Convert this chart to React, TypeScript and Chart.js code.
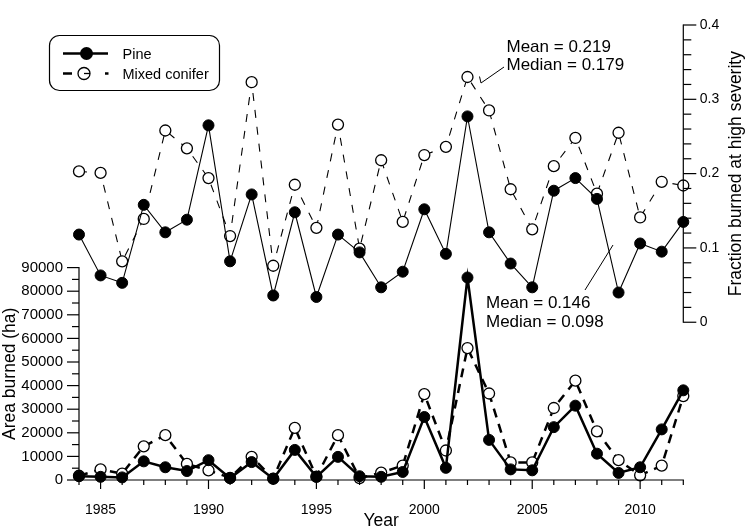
import React, { useEffect, useRef } from "react";
import { Chart, registerables } from "chart.js";

Chart.register(...registerables);

// ---------- data ----------
const years = [
  1984, 1985, 1986, 1987, 1988, 1989, 1990, 1991, 1992, 1993, 1994, 1995, 1996, 1997,
  1998, 1999, 2000, 2001, 2002, 2003, 2004, 2005, 2006, 2007, 2008, 2009, 2010, 2011, 2012,
];
const pineArea = [
  1600, 1350, 1100, 7900, 5400, 3800, 8400, 800, 7600, 550, 12750, 1350, 9800, 1600,
  1350, 3400, 26700, 5150, 85800, 17000, 4500, 4100, 22400, 31500, 11150, 3000, 5400, 21450, 38000,
];
const mixedArea = [
  1800, 4500, 2700, 14250, 19000, 6800, 4100, 900, 9800, 600, 22100, 1400, 19000, 800,
  3100, 6100, 36400, 12500, 55900, 36650, 7450, 7450, 30500, 42100, 20600, 8400, 2000, 6100, 35550,
];
const pineFrac = [
  0.118, 0.063, 0.053, 0.158, 0.121, 0.138, 0.265, 0.082, 0.172, 0.036, 0.148, 0.034, 0.118, 0.094,
  0.047, 0.068, 0.152, 0.092, 0.277, 0.121, 0.079, 0.047, 0.177, 0.194, 0.166, 0.040, 0.106, 0.095, 0.135,
];
const mixedFrac = [
  0.203, 0.201, 0.082, 0.139, 0.258, 0.234, 0.194, 0.116, 0.323, 0.076, 0.185, 0.127, 0.266, 0.099,
  0.218, 0.135, 0.225, 0.236, 0.330, 0.285, 0.179, 0.125, 0.210, 0.248, 0.173, 0.255, 0.141, 0.189, 0.184,
];
const xLabelYears = [1985, 1990, 1995, 2000, 2005, 2010];
const areaTicks = [0, 10000, 20000, 30000, 40000, 50000, 60000, 70000, 80000, 90000];
const fracTicks = [0, 0.1, 0.2, 0.3, 0.4];
const fracTickLabels = ["0", "0.1", "0.2", "0.3", "0.4"];
const seriesNames = ["Pine", "Mixed conifer"];
const pineStats = ["Mean = 0.146", "Median = 0.098"];
const mixedStats = ["Mean = 0.219", "Median = 0.179"];
const xTitle = "Year";
const leftTitle = "Area burned (ha)";
const rightTitle = "Fraction burned at high severity";

const FONT = "'Liberation Sans', Arial, Helvetica, sans-serif";

const toPts = (vals: number[]) => vals.map((v, i) => ({ x: years[i], y: v }));

const decorPlugin = {
  id: "decor",
  afterDraw(chart: any) {
    const ctx: CanvasRenderingContext2D = chart.ctx;
    const xs = chart.scales.x;
    const ya = chart.scales.yArea;
    const yf = chart.scales.yFrac;
    const ca = chart.chartArea;
    const line = (x1: number, y1: number, x2: number, y2: number) => {
      ctx.beginPath();
      ctx.moveTo(x1, y1);
      ctx.lineTo(x2, y2);
      ctx.stroke();
    };
    ctx.save();
    ctx.strokeStyle = "#000";
    ctx.fillStyle = "#000";
    ctx.lineWidth = 1.2;
    ctx.lineCap = "butt";

    // x axis
    const y0 = ya.getPixelForValue(0);
    line(xs.getPixelForValue(years[0]) - 0.6, y0, xs.getPixelForValue(years[years.length - 1]) + 0.6, y0);
    years.forEach((yr) => {
      const px = xs.getPixelForValue(yr);
      const len = yr % 5 === 0 ? 9 : 5;
      line(px, y0, px, y0 + len);
    });

    // left axis
    const lx = ca.left;
    const aMax = areaTicks[areaTicks.length - 1];
    line(lx, y0, lx, ya.getPixelForValue(aMax) - 0.6);
    for (let v = 0; v <= aMax; v += 5000) {
      const py = ya.getPixelForValue(v);
      const len = v % 10000 === 0 ? 12 : 7;
      line(lx - len, py, lx, py);
    }

    // right axis
    const rx = ca.right;
    const fMax = fracTicks[fracTicks.length - 1];
    line(rx, yf.getPixelForValue(0) + 0.6, rx, yf.getPixelForValue(fMax) - 0.6);
    for (let k = 0; k <= 20; k++) {
      const v = k * 0.02;
      const py = yf.getPixelForValue(v);
      const len = k % 5 === 0 ? 13 : 8;
      line(rx, py, rx + len, py);
    }

    // axis titles
    ctx.font = `17.5px ${FONT}`;
    ctx.textAlign = "center";
    ctx.textBaseline = "alphabetic";
    ctx.fillText(xTitle, (xs.getPixelForValue(years[0]) + xs.getPixelForValue(years[years.length - 1])) / 2, 526);

    ctx.save();
    ctx.translate(14.5, (ya.getPixelForValue(0) + ya.getPixelForValue(aMax)) / 2);
    ctx.rotate(-Math.PI / 2);
    ctx.fillText(leftTitle, 0, 0);
    ctx.restore();

    ctx.save();
    ctx.translate(741, (yf.getPixelForValue(0) + yf.getPixelForValue(fMax)) / 2);
    ctx.rotate(-Math.PI / 2);
    ctx.fillText(rightTitle, 0, 0);
    ctx.restore();

    // legend
    ctx.lineWidth = 1.2;
    ctx.beginPath();
    (ctx as any).roundRect(49.5, 35.5, 170, 55, 10);
    ctx.stroke();

    ctx.lineWidth = 2.5;
    line(63, 53.5, 108, 53.5);
    ctx.beginPath();
    ctx.arc(86.5, 53.5, 6.5, 0, Math.PI * 2);
    ctx.fill();

    line(63, 73.5, 72, 73.5);
    line(105, 73.5, 108.5, 73.5);
    ctx.lineWidth = 1.3;
    ctx.beginPath();
    ctx.arc(84, 73.5, 6, 0, Math.PI * 2);
    ctx.fillStyle = "#fff";
    ctx.fill();
    ctx.stroke();
    ctx.fillStyle = "#000";
    line(84, 73.5, 90, 73.5);

    ctx.font = `14.5px ${FONT}`;
    ctx.textAlign = "left";
    ctx.fillText(seriesNames[0], 122.5, 58.5);
    ctx.fillText(seriesNames[1], 122.5, 78.5);

    // annotations
    ctx.font = `17px ${FONT}`;
    ctx.fillText(mixedStats[0], 506.5, 51.5);
    ctx.fillText(mixedStats[1], 506.5, 69.5);
    ctx.fillText(pineStats[0], 486, 307.5);
    ctx.fillText(pineStats[1], 486, 327);

    ctx.lineWidth = 1;
    ctx.beginPath();
    ctx.moveTo(479.5, 76.5);
    ctx.lineTo(481, 83);
    ctx.lineTo(504, 67);
    ctx.stroke();
    line(585, 290, 613, 245);

    ctx.restore();
  },
};

export default function App() {
  const ref = useRef<HTMLCanvasElement | null>(null);

  useEffect(() => {
    if (!ref.current) return;
    const chart = new Chart(ref.current, {
      type: "line",
      data: {
        datasets: [
          {
            label: "Pine area",
            data: toPts(pineArea),
            yAxisID: "yArea",
            borderColor: "#000",
            borderWidth: 2.5,
            pointRadius: 5.5,
            pointBorderWidth: 1,
            pointBackgroundColor: "#000",
            pointBorderColor: "#000",
            clip: false,
          } as any,
          {
            label: "Pine fraction",
            data: toPts(pineFrac),
            yAxisID: "yFrac",
            borderColor: "#000",
            borderWidth: 1.1,
            pointRadius: 5.5,
            pointBorderWidth: 1,
            pointBackgroundColor: "#000",
            pointBorderColor: "#000",
            clip: false,
          },
          {
            label: "Mixed conifer area",
            data: toPts(mixedArea),
            yAxisID: "yArea",
            borderColor: "#000",
            borderWidth: 2.5,
            borderDash: [9, 7],
            pointRadius: 5.5,
            pointBorderWidth: 1.3,
            pointBackgroundColor: "#fff",
            pointBorderColor: "#000",
            clip: false,
          },
          {
            label: "Mixed conifer fraction",
            data: toPts(mixedFrac),
            yAxisID: "yFrac",
            borderColor: "#000",
            borderWidth: 1.1,
            borderDash: [8, 9],
            pointRadius: 5.5,
            pointBorderWidth: 1.3,
            pointBackgroundColor: "#fff",
            pointBorderColor: "#000",
            clip: false,
          },
        ],
      },
      options: {
        responsive: false,
        animation: false,
        devicePixelRatio: 1,
        layout: { padding: { top: 7, left: 0, right: 0, bottom: 0 }, autoPadding: false } as any,
        plugins: { legend: { display: false }, tooltip: { enabled: false } },
        elements: { line: { tension: 0 } },
        scales: {
          x: {
            type: "linear",
            position: "bottom",
            min: 1984,
            max: 2012,
            grid: { display: false, drawTicks: false },
            border: { display: false },
            afterBuildTicks: (s: any) => {
              s.ticks = xLabelYears.map((v) => ({ value: v }));
            },
            ticks: {
              autoSkip: false,
              maxRotation: 0,
              padding: 22,
              color: "#000",
              font: { family: FONT, size: 14 },
              callback: (v: any) => String(v),
            },
            afterFit: (s: any) => {
              s.height = 49;
            },
          },
          yArea: {
            type: "linear",
            position: "left",
            min: 0,
            max: 192800,
            grid: { display: false, drawTicks: false },
            border: { display: false },
            afterBuildTicks: (s: any) => {
              s.ticks = areaTicks.map((v) => ({ value: v }));
            },
            ticks: {
              padding: 16,
              color: "#000",
              font: { family: FONT, size: 15 },
              callback: (v: any) => String(v),
            },
            afterFit: (s: any) => {
              s.width = 79;
            },
          },
          yFrac: {
            type: "linear",
            position: "right",
            min: -0.2123,
            max: 0.4,
            grid: { display: false, drawTicks: false },
            border: { display: false },
            afterBuildTicks: (s: any) => {
              s.ticks = fracTicks.map((v) => ({ value: v }));
            },
            ticks: {
              padding: 16.5,
              color: "#000",
              font: { family: FONT, size: 14 },
              callback: (_v: any, i: number) => fracTickLabels[i],
            },
            afterFit: (s: any) => {
              s.width = 61.7;
            },
          },
        },
      },
      plugins: [decorPlugin],
    });
    return () => chart.destroy();
  }, []);

  return (
    <div style={{ position: "absolute", left: 0, top: 0, width: 745, height: 529, background: "#fff" }}>
      <canvas ref={ref} width={745} height={529} style={{ display: "block" }} />
    </div>
  );
}
